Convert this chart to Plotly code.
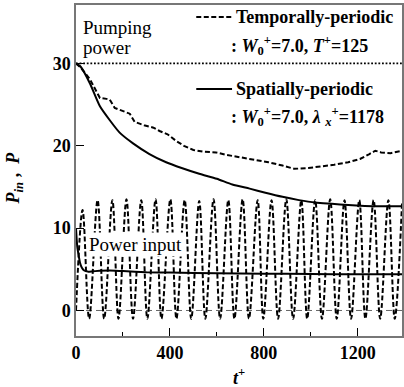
import plotly.graph_objects as go

# ---------------- data ----------------
# Pumping power (constant)
pump_t = [0, 1389]
pump_p = [30, 30]

# Temporally-periodic: pumping power P (dashed)
tp_t = [0, 20, 59, 80, 102, 130, 144, 165, 200, 229, 250, 290, 330, 356, 390, 426, 460, 500, 540, 596, 640, 700, 760, 820, 880, 930, 990, 1050, 1100, 1160, 1210, 1250, 1275, 1300, 1340, 1389]
tp_p = [30.0, 29.5, 28.1, 26.9, 25.8, 25.7, 25.6, 24.6, 24.2, 23.9, 22.9, 22.5, 22.2, 21.8, 21.4, 20.6, 20.0, 19.5, 19.3, 19.2, 18.9, 18.6, 18.3, 18.0, 17.6, 17.2, 17.3, 17.5, 17.7, 18.0, 18.4, 19.0, 19.4, 19.2, 19.1, 19.4]

# Spatially-periodic: pumping power P (solid)
sp_t = [0, 20, 59, 102, 144, 186, 243, 313, 384, 450, 525, 600, 666, 740, 807, 880, 950, 1020, 1090, 1160, 1230, 1300, 1389]
sp_p = [30.0, 29.6, 27.6, 24.8, 23.1, 21.6, 20.3, 19.0, 18.0, 17.3, 16.6, 16.0, 15.3, 14.8, 14.3, 13.8, 13.4, 13.1, 12.95, 12.8, 12.7, 12.65, 12.65]

# Spatially-periodic: power input P_in (solid)
spin_t = [0, 3, 6, 10, 17, 25, 35, 50, 70, 100, 144, 200, 300, 400, 600, 800, 1000, 1200, 1389]
spin_p = [10.0, 8.6, 7.6, 6.9, 5.8, 5.2, 4.85, 4.72, 4.75, 4.82, 4.85, 4.78, 4.65, 4.6, 4.52, 4.47, 4.43, 4.4, 4.4]

# Temporally-periodic: power input P_in (dashed), extrema
tpin_t = [0, 28, 56, 92, 120, 155, 181, 215, 243, 278, 304, 339, 364, 402, 428, 463, 491,
          525, 551, 586, 614, 649, 675, 710, 737, 774, 798, 833, 861, 896, 925, 960, 985,
          1019, 1048, 1083, 1111, 1144, 1172, 1207, 1233, 1268, 1296, 1331, 1358, 1389]
tpin_p = [0.0, 12.2, -1.0, 13.4, -1.0, 13.4, -1.0, 13.5, -1.0, 13.4, -1.0, 13.5, -1.0, 13.5, -1.0, 13.4, -1.0,
          13.3, -1.0, 13.5, -1.0, 13.4, -1.0, 13.5, -1.0, 13.4, -1.0, 13.4, -1.0, 13.5, -1.0, 13.4, -1.0,
          13.4, -1.0, 13.5, -1.0, 13.4, -1.0, 13.4, -1.0, 13.4, -1.0, 13.4, -1.0, 13.0]

zero_t = [0, 1389]
zero_p = [0, 0]

x_ticks = [0, 400, 800, 1200]
y_ticks = [0, 10, 20, 30]

FONT = "'Liberation Serif', 'Times New Roman', Times, 'DejaVu Serif', serif"
DASH = "5px,2.5px"

fig = go.Figure()
fig.add_trace(go.Scatter(x=zero_t, y=zero_p, mode="lines",
                         line=dict(color="#666666", width=1, dash="6px,4px"), hoverinfo="skip"))
fig.add_trace(go.Scatter(x=pump_t, y=pump_p, mode="lines",
                         line=dict(color="black", width=1.8, dash="1.8px,1.8px")))
fig.add_trace(go.Scatter(x=tpin_t, y=tpin_p, mode="lines",
                         line=dict(color="black", width=2, dash=DASH, shape="spline", smoothing=1)))
fig.add_trace(go.Scatter(x=spin_t, y=spin_p, mode="lines",
                         line=dict(color="black", width=2, shape="spline", smoothing=0.6)))
fig.add_trace(go.Scatter(x=tp_t, y=tp_p, mode="lines",
                         line=dict(color="black", width=2, dash=DASH)))
fig.add_trace(go.Scatter(x=sp_t, y=sp_p, mode="lines",
                         line=dict(color="black", width=2, shape="spline", smoothing=0.6)))

L, T, PW, PH = 76, 5, 328, 331


def px(x):
    return (x - L) / PW


def py(y):
    return (T + PH - y) / PH


fig.update_layout(
    width=404, height=387,
    margin=dict(l=L, r=0, t=T, b=387 - T - PH),
    paper_bgcolor="white", plot_bgcolor="white",
    showlegend=False,
    font=dict(family=FONT, size=18, color="black"),
    xaxis=dict(range=[0, 1389], tickvals=x_ticks, ticks="inside", ticklen=8, tickwidth=1.2,
               tickcolor="black", showgrid=False, zeroline=False,
               showline=True, linecolor="#777777", linewidth=1.5, mirror=True,
               tickfont=dict(family=FONT, size=18, color="black", weight="bold"),
               minor=dict(dtick=200, ticks="inside", ticklen=4, tickcolor="black", showgrid=False)),
    yaxis=dict(range=[-3.1, 37.1], tickvals=y_ticks, ticks="inside", ticklen=8, tickwidth=1.2,
               tickcolor="black", showgrid=False, zeroline=False,
               showline=True, linecolor="#777777", linewidth=1.5, mirror=True,
               tickfont=dict(family=FONT, size=18, color="black", weight="bold")),
)

# legend-like samples
fig.add_shape(type="line", xref="paper", yref="paper", x0=px(197), x1=px(233), y0=py(17), y1=py(17),
              line=dict(color="black", width=2, dash=DASH))
fig.add_shape(type="line", xref="paper", yref="paper", x0=px(197), x1=px(233), y0=py(89), y1=py(89),
              line=dict(color="black", width=2))

ann = [
    dict(x=px(235), y=py(17), text="<b>Temporally-periodic</b>", size=18),
    dict(x=px(230), y=py(46), text="<b>: <i>W</i><sub>0</sub><sup>+</sup>=7.0, <i>T</i><sup>+</sup>=125</b>", size=18),
    dict(x=px(235), y=py(89), text="<b>Spatially-periodic</b>", size=18),
    dict(x=px(230), y=py(117), text="<b>: <i>W</i><sub>0</sub><sup>+</sup>=7.0, <i>λ</i> <sub><i>x</i></sub><sup>+</sup>=1178</b>", size=18),
    dict(x=px(81), y=py(27), text="Pumping", size=19),
    dict(x=px(81), y=py(47), text="power", size=19),
]
for a in ann:
    fig.add_annotation(x=a["x"], y=a["y"], xref="paper", yref="paper", text=a["text"],
                       showarrow=False, xanchor="left", yanchor="middle",
                       font=dict(family=FONT, size=a["size"], color="black"))

fig.add_annotation(x=px(87), y=py(244), xref="paper", yref="paper", text="Power input",
                   showarrow=False, xanchor="left", yanchor="middle", bgcolor="white", borderpad=1,
                   font=dict(family=FONT, size=19, color="black"))

fig.add_annotation(x=px(14), y=py(178), xref="paper", yref="paper", textangle=-90,
                   text="<b><i>P</i><sub><i>in</i></sub> ,  <i>P</i></b>",
                   showarrow=False, xanchor="center", yanchor="middle",
                   font=dict(family=FONT, size=18, color="black"))
fig.add_annotation(x=px(240), y=py(376), xref="paper", yref="paper",
                   text="<b><i>t</i><sup>+</sup></b>",
                   showarrow=False, xanchor="center", yanchor="middle",
                   font=dict(family=FONT, size=18, color="black"))

fig.write_html("out.html")
